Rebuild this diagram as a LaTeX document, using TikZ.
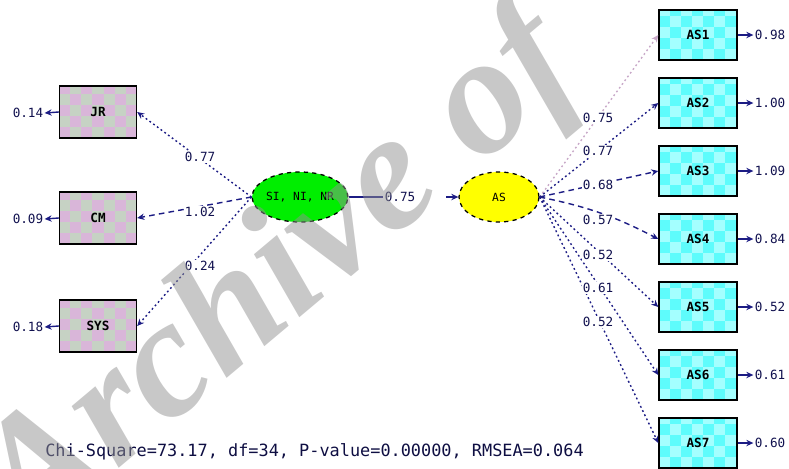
\documentclass[tikz,border=0pt]{standalone}
\usepackage{fontspec}
\setmonofont{DejaVu Sans Mono}
\newfontfamily\wmfont{Liberation Serif}
\usetikzlibrary{arrows.meta,shapes.geometric}
\definecolor{navy}{HTML}{1C1C84}
\definecolor{pinkc}{HTML}{D9B6D9}
\definecolor{grayc}{HTML}{C6D2C4}
\definecolor{cyana}{HTML}{5EFCFC}
\definecolor{cyanb}{HTML}{A4FFFF}
\definecolor{lightl}{HTML}{C8A8C8}
\definecolor{wmgray}{HTML}{919191}
\newcommand\chk[2]{%
 \fill[#1] (path picture bounding box.south west) rectangle (path picture bounding box.north east);
 \foreach \i in {0,...,7}{\foreach \j in {0,...,5}{%
   \pgfmathtruncatemacro\kk{mod(\i+\j,2)}%
   \ifnum\kk=0 \fill[#2] ([shift={(\i*0.275cm,\j*0.275cm)}]path picture bounding box.south west) rectangle +(0.275cm,0.275cm);\fi}}}
\tikzset{
 boxbase/.style={draw=black, line width=1pt, inner sep=0pt,
   font=\ttfamily\bfseries\fontsize{9}{9}\selectfont},
 lbox/.style={boxbase, minimum width=1.925cm, minimum height=1.3cm, path picture={\chk{grayc}{pinkc}}},
 rbox/.style={boxbase, minimum width=1.95cm, minimum height=1.25cm, path picture={\chk{cyana}{cyanb}}},
 lat/.style={ellipse, draw=black, dashed, line width=0.9pt, minimum width=2cm, minimum height=1.25cm, inner sep=0pt,
   font=\ttfamily\fontsize{8}{8}\selectfont},
 lbl/.style={font=\ttfamily\fontsize{9}{9}\selectfont, text=navy!60!black, fill=white, inner sep=0.8pt},
 elbl/.style={font=\ttfamily\fontsize{9}{9}\selectfont, text=navy!60!black, inner sep=0.8pt},
 conn/.style={draw=navy, line width=1pt, -{Stealth[length=5pt,width=4.5pt]}},
 dotline/.style={dash pattern=on 1.3pt off 2pt},
 dashline/.style={dash pattern=on 4pt off 3pt},
}
\begin{document}
\begin{tikzpicture}[x=0.025cm,y=-0.025cm]
\useasboundingbox (0,0) rectangle (789,468);
% left observed
\node[lbox] (JR) at (98,112) {JR};
\node[lbox] (CM) at (98,218) {CM};
\node[lbox] (SYS) at (98,326) {SYS};
% right observed
\node[rbox] (A1) at (698,35) {AS1};
\node[rbox] (A2) at (698,103) {AS2};
\node[rbox] (A3) at (698,171) {AS3};
\node[rbox] (A4) at (698,239) {AS4};
\node[rbox] (A5) at (698,307) {AS5};
\node[rbox] (A6) at (698,375) {AS6};
\node[rbox] (A7) at (698,443) {AS7};
% latent
\node[lat, fill={rgb,255:red,0;green,238;blue,0}] (G) at (300,197) {SI, NI, NR};
\node[lat, fill={rgb,255:red,255;green,255;blue,0}] (Y) at (499,197) {AS};
% left loadings
\draw[conn,dotline] (G.west) -- (JR.east);
\draw[conn,dashline] (G.west) -- (CM.east);
\draw[conn,dotline] (G.west) -- (SYS.east);
\node[lbl] (l1) at (200,157) {0.77};
\node[lbl] (l2) at (200,212) {1.02};
\node[lbl] (l3) at (200,266) {0.24};
% structural
\node[lbl] (l0) at (400,197) {0.75};
\draw[draw=navy, line width=1pt] (G.east) -- (l0.west);
\coordinate (Ystub) at (446,197);
\draw[conn] (Ystub) -- (Y.west);
% right loadings
\draw[conn,dotline,draw=lightl] (Y.east) -- (A1.west);
\draw[conn,dotline] (Y.east) -- (A2.west);
\draw[conn,dashline] (Y.east) -- (A3.west);
\draw[conn,dashline] (Y.east) to[bend left=8] (A4.west);
\draw[conn,dotline] (Y.east) -- (A5.west);
\draw[conn,dotline] (Y.east) -- (A6.west);
\draw[conn,dotline] (Y.east) -- (A7.west);
\node[lbl] (r1) at (598,118) {0.75};
\node[lbl] (r2) at (598,151) {0.77};
\node[lbl] (r3) at (598,185) {0.68};
\node[lbl] (r4) at (598,220) {0.57};
\node[lbl] (r5) at (598,255) {0.52};
\node[lbl] (r6) at (598,288) {0.61};
\node[lbl] (r7) at (598,322) {0.52};
% error terms left
\node[elbl] (eJR) at (28,113) {0.14};
\node[elbl] (eCM) at (28,219) {0.09};
\node[elbl] (eSYS) at (28,327) {0.18};
\draw[conn] (JR.west) -- (eJR.east);
\draw[conn] (CM.west) -- (eCM.east);
\draw[conn] (SYS.west) -- (eSYS.east);
% error terms right
\node[elbl] (e1) at (770,35) {0.98};
\node[elbl] (e2) at (770,103) {1.00};
\node[elbl] (e3) at (770,171) {1.09};
\node[elbl] (e4) at (770,239) {0.84};
\node[elbl] (e5) at (770,307) {0.52};
\node[elbl] (e6) at (770,375) {0.61};
\node[elbl] (e7) at (770,443) {0.60};
\foreach \k in {1,...,7}{\draw[conn] (A\k.east) -- (e\k.west);}
% fit statistics
\node[font=\ttfamily\fontsize{12}{12}\selectfont, text=navy!50!black, anchor=west, inner sep=0pt] (fit) at (45,452)
  {Chi-Square=73.17, df=34, P-value=0.00000, RMSEA=0.064};
% watermark
\node[rotate=40, text=wmgray, text opacity=0.5, font=\wmfont\bfseries\itshape\fontsize{120}{120}\selectfont, inner sep=0pt] (wm) at (282,278) {Archive of};
\end{tikzpicture}
\end{document}
